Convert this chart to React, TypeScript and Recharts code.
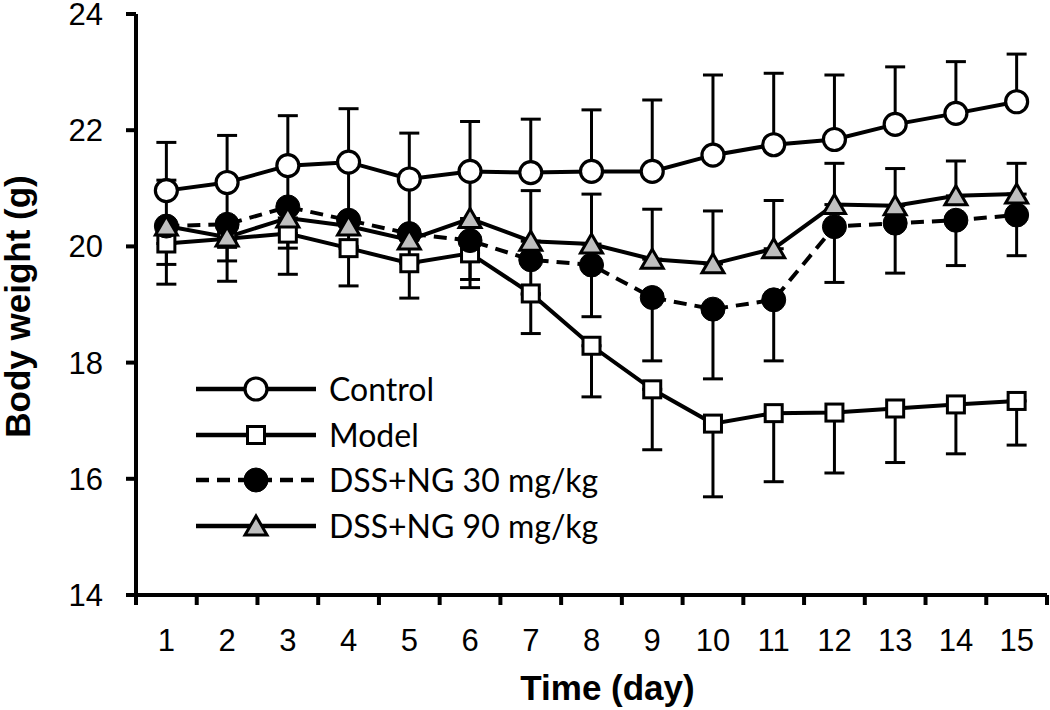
import React from 'react';
import { LineChart, Line, XAxis, YAxis, ErrorBar, Legend } from 'recharts';

// ---- data ----
const days = [1, 2, 3, 4, 5, 6, 7, 8, 9, 10, 11, 12, 13, 14, 15];
const dayLabels = ['1', '2', '3', '4', '5', '6', '7', '8', '9', '10', '11', '12', '13', '14', '15'];
const boundaryTicks = [0.5, 1.5, 2.5, 3.5, 4.5, 5.5, 6.5, 7.5, 8.5, 9.5, 10.5, 11.5, 12.5, 13.5, 14.5, 15.5];
const yTicks = [14, 16, 18, 20, 22, 24];

const seriesNames = ['Control', 'Model', 'DSS+NG 30 mg/kg', 'DSS+NG 90 mg/kg'];

const control = [20.96, 21.1, 21.39, 21.45, 21.16, 21.29, 21.27, 21.29, 21.29, 21.57, 21.75, 21.84, 22.1, 22.29, 22.49];
const controlErr = [0.83, 0.81, 0.86, 0.92, 0.79, 0.86, 0.92, 1.06, 1.23, 1.38, 1.23, 1.11, 0.99, 0.89, 0.82];

const model = [20.05, 20.13, 20.22, 19.97, 19.71, 19.88, 19.19, 18.29, 17.54, 16.95, 17.13, 17.14, 17.21, 17.28, 17.34];
const modelErr = [0.7, 0.73, 0.7, 0.65, 0.6, 0.59, 0.69, 0.88, 1.04, 1.26, 1.18, 1.04, 0.93, 0.85, 0.76];

const ng30 = [20.35, 20.38, 20.68, 20.45, 20.22, 20.1, 19.77, 19.68, 19.12, 18.92, 19.08, 20.34, 20.4, 20.45, 20.54];
const ng30Err = [0.66, 0.63, 0.71, 0.45, 0.5, 0.67, 0.6, 0.89, 1.09, 1.2, 1.05, 0.96, 0.86, 0.78, 0.7];

const ng90 = [20.35, 20.16, 20.49, 20.35, 20.11, 20.48, 20.09, 20.04, 19.78, 19.7, 19.96, 20.72, 20.7, 20.87, 20.9];
const ng90Err = [0.79, 0.85, 0.85, 1.0, 0.95, 0.75, 0.87, 0.86, 0.86, 0.91, 0.83, 0.71, 0.64, 0.6, 0.53];

const data = days.map((d, i) => ({
  day: d,
  control: control[i],
  controlErr: [0, controlErr[i]],
  model: model[i],
  modelErr: [modelErr[i], 0],
  ng30: ng30[i],
  ng30Err: [ng30Err[i], 0],
  ng90: ng90[i],
  ng90Err: [0, ng90Err[i]],
}));

// ---- layout ----
const W = 1050;
const H = 710;
const MARGIN = { top: 14, right: 3, left: 0, bottom: 0 };
const Y_AXIS_W = 136;
const X_AXIS_H = 115;
const PLOT_W = W - MARGIN.left - MARGIN.right - Y_AXIS_W;

const SANS = '"Liberation Sans", Arial, sans-serif';
const LEGEND_FONT = 'Lato, "Open Sans", sans-serif';
const GRAY = '#bfbfbf';

// ---- markers ----
const CircleOpen = ({ cx, cy }: any) => (
  <circle cx={cx} cy={cy} r={11} fill="#fff" stroke="#000" strokeWidth={3.2} />
);
const SquareOpen = ({ cx, cy }: any) => (
  <rect x={cx - 8.5} y={cy - 8.5} width={17} height={17} fill="#fff" stroke="#000" strokeWidth={3} />
);
const CircleFilled = ({ cx, cy }: any) => <circle cx={cx} cy={cy} r={12} fill="#000" stroke="#000" strokeWidth={1} />;
const Triangle = ({ cx, cy }: any) => (
  <polygon
    points={`${cx},${cy - 10} ${cx + 11},${cy + 9} ${cx - 11},${cy + 9}`}
    fill={GRAY}
    stroke="#000"
    strokeWidth={3}
    strokeLinejoin="miter"
  />
);

const markers = [CircleOpen, SquareOpen, CircleFilled, Triangle];
const dashes = [undefined, undefined, '13 8', undefined];

const mkDot = (Comp: any) => (props: any) => {
  const { cx, cy, index } = props;
  if (cx == null || cy == null) return <g key={`e${index}`} />;
  return <Comp key={`d${index}`} cx={cx} cy={cy} />;
};

// ---- ticks ----
const XTick = (props: any) => {
  const { x, y, index, width } = props;
  if (index >= dayLabels.length) return <g />;
  const w = typeof width === 'number' && width > 100 ? width : PLOT_W;
  const half = w / dayLabels.length / 2;
  return (
    <text x={x + half} y={y} dy="0.71em" textAnchor="middle" fill="#000" fontSize={31} fontFamily={SANS}>
      {dayLabels[index]}
    </text>
  );
};

const XTitle = (props: any) => {
  const vb = props.viewBox || {};
  return (
    <text
      x={vb.x + vb.width / 2 + 16}
      y={vb.y + vb.height - 10}
      textAnchor="middle"
      fontFamily={SANS}
      fontWeight="bold"
      fontSize={35}
      fill="#000"
    >
      Time (day)
    </text>
  );
};

const YTitle = (props: any) => {
  const vb = props.viewBox || {};
  const cx = vb.x + 30;
  const cy = vb.y + vb.height / 2 + 2;
  return (
    <text
      x={cx}
      y={cy}
      transform={`rotate(-90, ${cx}, ${cy})`}
      textAnchor="middle"
      fontFamily={SANS}
      fontWeight="bold"
      fontSize={35}
      fill="#000"
    >
      Body weight (g)
    </text>
  );
};

const LegendBox = () => {
  const rowY = [23, 69, 114, 160];
  return (
    <svg width={430} height={185} style={{ display: 'block' }}>
      {seriesNames.map((name, i) => {
        const M = markers[i];
        return (
          <g key={name}>
            <line x1={6} x2={126} y1={rowY[i]} y2={rowY[i]} stroke="#000" strokeWidth={4.5} strokeDasharray={dashes[i]} />
            <M cx={66} cy={rowY[i]} />
            <text x={139} y={rowY[i]} dy="0.36em" fontFamily={LEGEND_FONT} fontSize={32} fill="#000">
              {name}
            </text>
          </g>
        );
      })}
    </svg>
  );
};

const seriesKeys = ['control', 'model', 'ng30', 'ng90'];

export default function App() {
  return (
    <div style={{ position: 'absolute', left: 0, top: 0, background: '#fff' }}>
      <LineChart width={W} height={H} data={data} margin={MARGIN}>
        <XAxis
          dataKey="day"
          type="number"
          domain={[0.5, 15.5]}
          ticks={boundaryTicks}
          interval={0}
          height={X_AXIS_H}
          tickSize={10}
          tickMargin={24}
          axisLine={{ stroke: '#000', strokeWidth: 4 }}
          tickLine={{ stroke: '#000', strokeWidth: 4 }}
          tick={<XTick />}
          label={<XTitle />}
        />
        <YAxis
          type="number"
          domain={[14, 24]}
          ticks={yTicks}
          interval={0}
          width={Y_AXIS_W}
          tickSize={10}
          tickMargin={23}
          axisLine={{ stroke: '#000', strokeWidth: 4 }}
          tickLine={{ stroke: '#000', strokeWidth: 4 }}
          tick={{ fill: '#000', fontSize: 31, fontFamily: SANS }}
          label={<YTitle />}
        />
        <Legend
          layout="horizontal"
          verticalAlign="middle"
          align="center"
          wrapperStyle={{ left: 190, top: 366, width: 430 }}
          content={<LegendBox />}
        />
        {seriesKeys.map((k, i) => (
          <Line
            key={k}
            type="linear"
            dataKey={k}
            name={seriesNames[i]}
            stroke="#000"
            strokeWidth={4}
            strokeDasharray={dashes[i]}
            dot={mkDot(markers[i])}
            activeDot={false}
            isAnimationActive={false}
          >
            <ErrorBar dataKey={`${k}Err`} width={10} strokeWidth={3} stroke="#000" direction="y" />
          </Line>
        ))}
      </LineChart>
    </div>
  );
}
